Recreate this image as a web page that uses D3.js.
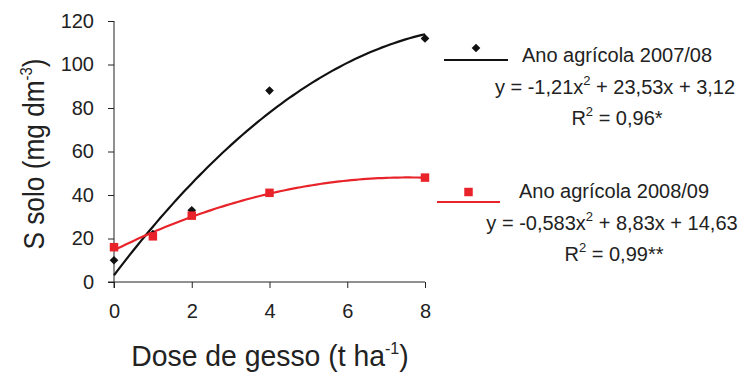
<!DOCTYPE html>
<html>
<head>
<meta charset="utf-8">
<script src="https://cdn.jsdelivr.net/npm/d3@7"></script>
<style>
  html, body { margin: 0; padding: 0; background: #fff; }
  svg { display: block; font-family: "Liberation Sans", Arial, sans-serif; }
</style>
</head>
<body>
<svg id="chart" width="746" height="376"></svg>
<script>
// Gypsum dose (t/ha) and soil S (mg/dm3) per crop year
const doses = [0, 1, 2, 4, 8];
const sulfur2007 = [10, 22, 33, 88, 112];
const sulfur2008 = [16, 21, 30.5, 41, 48];

// Quadratic fits: [a, b, c] for y = a x^2 + b x + c
const fit2007 = [-1.21, 23.53, 3.12];
const fit2008 = [-0.583, 8.83, 14.63];

const xTicks = [0, 2, 4, 6, 8];
const yTicks = [0, 20, 40, 60, 80, 100, 120];

const svg = d3.select("#chart");
const x = d3.scaleLinear().domain([0, 8]).range([114, 425]);
const y = d3.scaleLinear().domain([0, 120]).range([282, 21]);

// Axes
const xAxis = svg.append("g").attr("transform", `translate(0,${y(0)})`)
  .call(d3.axisBottom(x).tickValues(xTicks).tickSize(6).tickPadding(16).tickSizeOuter(0));
const yAxis = svg.append("g").attr("transform", `translate(${x(0)},0)`)
  .call(d3.axisLeft(y).tickValues(yTicks).tickSize(6).tickPadding(14).tickSizeOuter(0));
[xAxis, yAxis].forEach(g => {
  g.selectAll("path, line").attr("stroke", "#222").attr("stroke-width", 1);
  g.selectAll("text").attr("font-size", 20).attr("fill", "#222")
    .attr("font-family", "Liberation Sans, Arial, sans-serif");
});
// extend x-axis line left to meet the y-axis tick
xAxis.select("path").attr("d", `M${x(0) - 6},0H${x(8)}`);
yAxis.select("path").attr("d", `M0,${y(120)}V${y(0) + 6}`);

// Fitted curves
function fitPoints(c) {
  const pts = [];
  for (let i = 0; i <= 80; i++) {
    const xv = i / 10;
    pts.push([xv, c[0] * xv * xv + c[1] * xv + c[2]]);
  }
  return pts;
}
const line = d3.line().x(d => x(d[0])).y(d => y(d[1]));
svg.append("path").datum(fitPoints(fit2007)).attr("d", line)
  .attr("fill", "none").attr("stroke", "#111").attr("stroke-width", 2.2);
svg.append("path").datum(fitPoints(fit2008)).attr("d", line)
  .attr("fill", "none").attr("stroke", "#e8242a").attr("stroke-width", 2.2);

// Markers
const diamond = d3.symbol().type(d3.symbolDiamond2).size(48);
const square = d3.symbol().type(d3.symbolSquare).size(72);
svg.append("g").selectAll("path").data(doses).join("path")
  .attr("d", diamond)
  .attr("transform", (d, i) => `translate(${x(d)},${y(sulfur2007[i])})`)
  .attr("fill", "#111");
svg.append("g").selectAll("path").data(doses).join("path")
  .attr("d", square)
  .attr("transform", (d, i) => `translate(${x(d)},${y(sulfur2008[i])})`)
  .attr("fill", "#e8242a");

// Axis titles
const xt = svg.append("text").attr("transform", "translate(270,366) scale(0.945,1)")
  .attr("text-anchor", "middle").attr("font-size", 30).attr("fill", "#222");
xt.append("tspan").text("Dose de gesso (t ha");
xt.append("tspan").attr("font-size", 17).attr("dy", -12).text("-1");
xt.append("tspan").attr("dy", 12).text(")");

const yt = svg.append("text").attr("transform", "translate(44,154) rotate(-90) scale(0.875,1)")
  .attr("text-anchor", "middle").attr("font-size", 30).attr("fill", "#222");
yt.append("tspan").text("S solo (mg dm");
yt.append("tspan").attr("font-size", 17).attr("dy", -12).text("-3");
yt.append("tspan").attr("dy", 12).text(")");

// Legend
function legendBlock(cx, lineY, x1, x2, markerDy, color, marker, title, eq, r2, baseY) {
  svg.append("line").attr("x1", x1).attr("x2", x2).attr("y1", lineY).attr("y2", lineY)
    .attr("stroke", color).attr("stroke-width", 2.2);
  svg.append("path").attr("d", marker)
    .attr("transform", `translate(${(x1 + x2) / 2},${lineY - markerDy})`).attr("fill", color);
  svg.append("text").attr("x", cx).attr("y", baseY).attr("text-anchor", "middle")
    .attr("font-size", 20).attr("fill", "#222").text(title);
  const e = svg.append("text").attr("x", cx - 2).attr("y", baseY + 32).attr("text-anchor", "middle")
    .attr("font-size", 20).attr("fill", "#222");
  e.append("tspan").text(eq[0]);
  e.append("tspan").attr("font-size", 13).attr("dy", -9).text("2");
  e.append("tspan").attr("dy", 9).text(eq[1]);
  const r = svg.append("text").attr("x", cx).attr("y", baseY + 63).attr("text-anchor", "middle")
    .attr("font-size", 20).attr("fill", "#222");
  r.append("tspan").text("R");
  r.append("tspan").attr("font-size", 13).attr("dy", -9).text("2");
  r.append("tspan").attr("dy", 9).text(r2);
}
legendBlock(617, 60, 444, 508, 12, "#111", diamond, "Ano agrícola 2007/08",
  ["y = -1,21x", " + 23,53x + 3,12"], " = 0,96*", 62);
legendBlock(614, 202, 437, 500, 10, "#e8242a", square, "Ano agrícola 2008/09",
  ["y = -0,583x", " + 8,83x + 14,63"], " = 0,99**", 198);
</script>
</body>
</html>
